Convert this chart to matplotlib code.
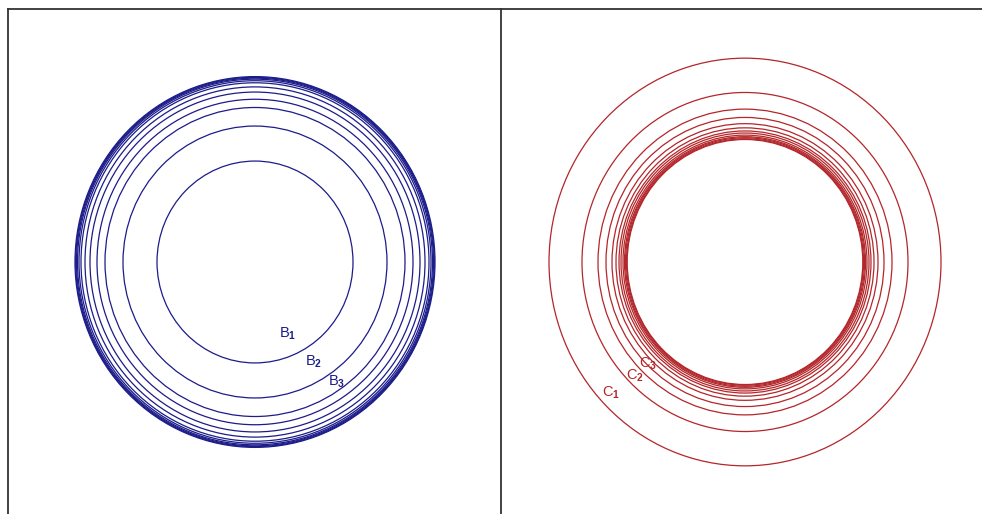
import matplotlib
matplotlib.use("Agg")
import matplotlib.pyplot as plt
from matplotlib.patches import Ellipse

plt.rcParams["font.family"] = ["Liberation Sans", "DejaVu Sans"]
plt.rcParams["mathtext.fontset"] = "custom"
plt.rcParams["mathtext.rm"] = "Liberation Sans"
plt.rcParams["mathtext.bf"] = "Liberation Sans:bold"

# radii of the concentric circles (pixels, horizontal)
blue_radii = [98, 132, 150, 158, 165, 170, 174, 176, 177.5, 178.5, 179.3, 180]
red_radii = [196, 163, 147, 139, 133, 129, 126, 124, 122, 120.5, 119.5, 118.5, 117.8]

blue_labels = [r"B$_{\mathbf{1}}$", r"B$_{\mathbf{2}}$", r"B$_{\mathbf{3}}$"]
red_labels = [r"C$_{\mathbf{1}}$", r"C$_{\mathbf{2}}$", r"C$_{\mathbf{3}}$"]

blue_col = "#1c1c8a"
red_col = "#b3262a"
frame_col = "#333333"

W, H = 982, 514
fig = plt.figure(figsize=(W / 100, H / 100), dpi=100)
ax = fig.add_axes([0, 0, 1, 1])
ax.set_xlim(0, W)
ax.set_ylim(H, 0)
ax.axis("off")

# frame
ax.plot([8, W], [9, 9], color=frame_col, lw=1.3)
ax.plot([8, 8], [9, H], color=frame_col, lw=1.3)
ax.plot([501, 501], [9, H], color=frame_col, lw=1.3)


def draw_rings(cx, cy, radii, col, aspect):
    for r in radii:
        ax.add_patch(Ellipse((cx, cy), 2 * r, 2 * r * aspect, fill=False,
                             edgecolor=col, lw=0.9))


draw_rings(255, 262, blue_radii, blue_col, 1.03)
draw_rings(745, 262, red_radii, red_col, 1.04)

blue_pos = [(288, 334), (314, 362), (337, 382)]
red_pos = [(611, 393), (635, 376), (648, 364)]
for txt, (x, y) in zip(blue_labels, blue_pos):
    ax.text(x, y, txt, color=blue_col, fontsize=10.5, ha="center", va="center")
for txt, (x, y) in zip(red_labels, red_pos):
    ax.text(x, y, txt, color=red_col, fontsize=10.5, ha="center", va="center")

fig.savefig("out.png", dpi=100)
